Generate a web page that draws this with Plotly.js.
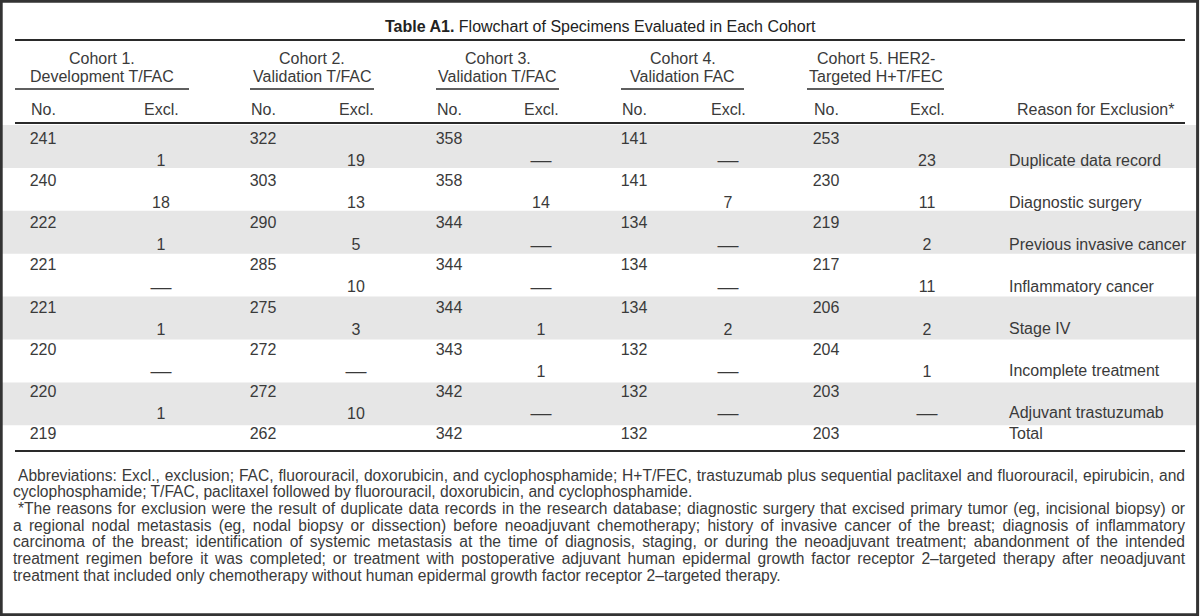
<!DOCTYPE html>
<html>
<head>
<meta charset="utf-8">
<script src="https://cdn.plot.ly/plotly-3.0.1.min.js"></script>
<style>
  html, body { margin: 0; padding: 0; background: #fff; }
  #table-a1 { width: 1200px; height: 616px; }
</style>
</head>
<body>
<div id="table-a1"></div>
<script>
// table content
var tableTitle = "<b>Table A1.</b> Flowchart of Specimens Evaluated in Each Cohort";
var cohortLine1 = ["Cohort 1.", "Cohort 2.", "Cohort 3.", "Cohort 4.", "Cohort 5. HER2-"];
var cohortLine2 = ["Development T/FAC", "Validation T/FAC", "Validation T/FAC", "Validation FAC", "Targeted H+T/FEC"];
var subHeaders = ["No.", "Excl."];
var reasonHeader = "Reason for Exclusion*";
var reasons = ["Duplicate data record", "Diagnostic surgery", "Previous invasive cancer",
  "Inflammatory cancer", "Stage IV", "Incomplete treatment", "Adjuvant trastuzumab"];
var totalLabel = "Total";

var noCohort1 = [241, 240, 222, 221, 221, 220, 220, 219];
var noCohort2 = [322, 303, 290, 285, 275, 272, 272, 262];
var noCohort3 = [358, 358, 344, 344, 344, 343, 342, 342];
var noCohort4 = [141, 141, 134, 134, 134, 132, 132, 132];
var noCohort5 = [253, 230, 219, 217, 206, 204, 203, 203];

var exclCohort1 = ["1", "18", "1", "—", "1", "—", "1"];
var exclCohort2 = ["19", "13", "5", "10", "3", "—", "10"];
var exclCohort3 = ["—", "14", "—", "—", "1", "1", "—"];
var exclCohort4 = ["—", "7", "—", "—", "2", "—", "—"];
var exclCohort5 = ["23", "11", "2", "11", "2", "1", "—"];

var footnotes = [
  "Abbreviations: Excl., exclusion; FAC, fluorouracil, doxorubicin, and cyclophosphamide; H+T/FEC, trastuzumab plus sequential paclitaxel and fluorouracil, epirubicin, and",
  "cyclophosphamide; T/FAC, paclitaxel followed by fluorouracil, doxorubicin, and cyclophosphamide.",
  "*The reasons for exclusion were the result of duplicate data records in the research database; diagnostic surgery that excised primary tumor (eg, incisional biopsy) or",
  "a regional nodal metastasis (eg, nodal biopsy or dissection) before neoadjuvant chemotherapy; history of invasive cancer of the breast; diagnosis of inflammatory",
  "carcinoma of the breast; identification of systemic metastasis at the time of diagnosis, staging, or during the neoadjuvant treatment; abandonment of the intended",
  "treatment regimen before it was completed; or treatment with postoperative adjuvant human epidermal growth factor receptor 2–targeted therapy after neoadjuvant",
  "treatment that included only chemotherapy without human epidermal growth factor receptor 2–targeted therapy."
];
var footnoteJustified = [true, false, true, true, true, true, false];
var footnoteIndent = [true, false, true, false, false, false, false];

var noCols = [noCohort1, noCohort2, noCohort3, noCohort4, noCohort5];
var exclCols = [exclCohort1, exclCohort2, exclCohort3, exclCohort4, exclCohort5];

// geometry (pixels, y axis runs top to bottom)
var W = 1200, H = 616;
var left = 15, right = 1185;
var noX = [43, 263, 449, 634, 826];
var exclX = [161, 356, 541, 728, 927];
var spanX = [[15, 189], [250, 374], [436, 559], [621, 744], [807, 944]];
var reasonX = 1007;
var bandTop = 125, bandH = 42.9;
var rowY0 = 140, rowStep = 42.15, exclDy = 22;
var ink = "#3a3a3a";
var fontFam = '"Liberation Sans", Arial, Helvetica, sans-serif';
var footSize = 15.6;

var shapes = [];
var annotations = [];

function hline(y, x0, x1, w) {
  shapes.push({type: "line", xref: "x", yref: "y", x0: x0, x1: x1, y0: y, y1: y,
    line: {color: "#2a2a2a", width: w}});
}
function label(x, y, text, anchor, size, align) {
  annotations.push({x: x, y: y, xref: "x", yref: "y", text: text, showarrow: false,
    xanchor: anchor || "center", yanchor: "middle", align: align || "center",
    font: {size: size || 16, color: ink, family: fontFam}});
  return annotations.length - 1;
}

// outer frame
shapes.push({type: "rect", xref: "paper", yref: "paper", x0: 0.001, x1: 0.998, y0: 0.002, y1: 0.998,
  line: {color: "#333", width: 3}});

// shaded bands
for (var i = 0; i < reasons.length; i += 2) {
  shapes.push({type: "rect", xref: "x", yref: "y", layer: "below",
    x0: 2, x1: 1197, y0: bandTop + i * bandH, y1: bandTop + (i + 1) * bandH,
    fillcolor: "#e6e6e6", line: {width: 0}});
}

// rules
hline(40, left, right, 2.2);
spanX.forEach(function (s) { hline(89, s[0], s[1], 1.6); });
hline(123, left, right, 2.2);
hline(451, left, right, 2.2);

// headers
annotations.push({x: 600, y: 26, xref: "x", yref: "y", text: tableTitle, showarrow: false,
  xanchor: "center", yanchor: "middle", font: {size: 16, color: "#222", family: fontFam}});
for (var c = 0; c < 5; c++) {
  var mid = (spanX[c][0] + spanX[c][1]) / 2;
  label(mid, 58, cohortLine1[c]);
  label(mid, 76, cohortLine2[c]);
  label(noX[c], 109, subHeaders[0]);
  label(exclX[c], 109, subHeaders[1]);
}
label(1095, 109, reasonHeader);

// row labels
reasons.forEach(function (r, i) {
  label(reasonX, rowY0 + i * rowStep + exclDy - 2, r, "left");
});
label(reasonX, rowY0 + reasons.length * rowStep - 2, totalLabel, "left");

// footnotes
var footIdx = [];
footnotes.forEach(function (t, i) {
  var x0 = footnoteIndent[i] ? 16 : 11;
  footIdx.push(label(x0, 475 + i * 16.7, t, "left", footSize, "left"));
});

// cell values as text traces
var traces = [];
for (var c = 0; c < 5; c++) {
  traces.push({
    type: "scatter", mode: "text", hoverinfo: "skip",
    x: noCols[c].map(function () { return noX[c]; }),
    y: noCols[c].map(function (v, i) { return rowY0 + i * rowStep; }),
    text: noCols[c].map(String),
    textposition: "middle center",
    textfont: {size: 16, color: ink, family: fontFam}
  });
  traces.push({
    type: "scatter", mode: "text", hoverinfo: "skip",
    x: exclCols[c].map(function () { return exclX[c]; }),
    y: exclCols[c].map(function (v, i) { return rowY0 + i * rowStep + exclDy; }),
    text: exclCols[c],
    textposition: "middle center",
    // the dash in the source is wider than a plain em dash
    textfont: {size: exclCols[c].map(function (v) { return v === "—" ? 21 : 16; }), color: ink, family: fontFam}
  });
}

var layout = {
  width: W, height: H,
  margin: {l: 0, r: 0, t: 0, b: 0},
  paper_bgcolor: "#fff", plot_bgcolor: "#fff",
  xaxis: {range: [0, W], visible: false, fixedrange: true},
  yaxis: {range: [H, 0], visible: false, fixedrange: true},
  showlegend: false,
  shapes: shapes,
  annotations: annotations
};

Plotly.newPlot("table-a1", traces, layout, {staticPlot: true, displayModeBar: false}).then(function (gd) {
  // justify the footnote lines to the right rule
  footIdx.forEach(function (idx, i) {
    if (!footnoteJustified[i]) return;
    var g = gd.querySelector('.annotation[data-index="' + idx + '"]');
    if (!g) return;
    var txt = g.querySelector("text.annotation-text");
    var natural = txt.getComputedTextLength();
    var box = txt.getBoundingClientRect();
    var spaces = (footnotes[i].match(/ /g) || []).length;
    var extra = (right - box.left - natural) / spaces;
    txt.style.wordSpacing = extra + "px";
  });
});
</script>
</body>
</html>
